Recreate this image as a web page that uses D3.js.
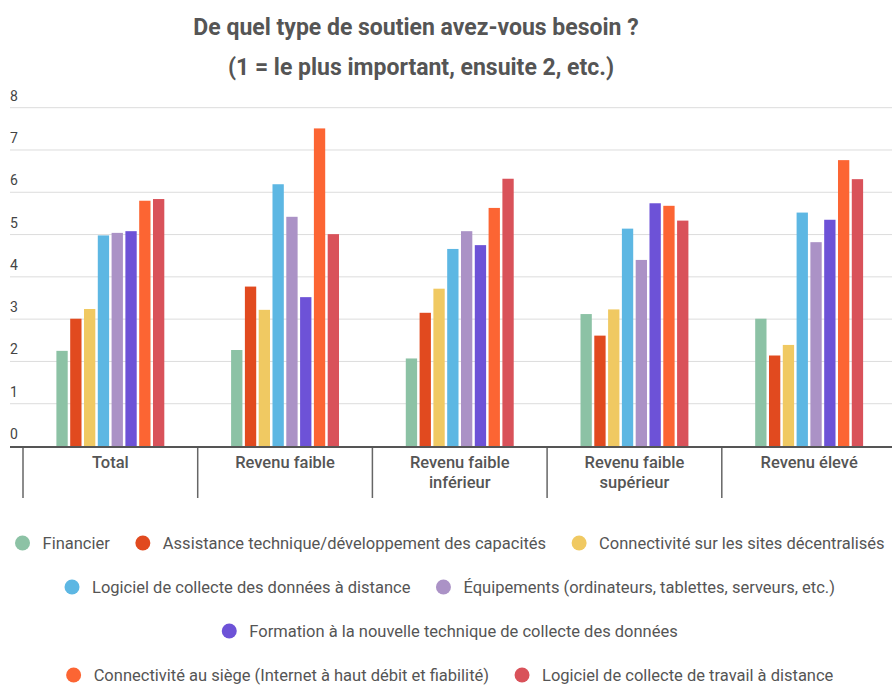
<!DOCTYPE html>
<html>
<head>
<meta charset="utf-8">
<script src="https://cdn.jsdelivr.net/npm/d3@7"></script>
<style>
  body { margin: 0; background: #fff; }
  text { font-family: Roboto, "Noto Sans", sans-serif; }
</style>
</head>
<body>
<div id="graph"></div>
<script>
// HTML element dimensions
var width = 892;
var height = 685;

// Chart data
var categories = [
  ["Total"],
  ["Revenu faible"],
  ["Revenu faible", "inférieur"],
  ["Revenu faible", "supérieur"],
  ["Revenu élevé"]
];
var seriesNames = [
  "Financier",
  "Assistance technique/développement des capacités",
  "Connectivité sur les sites décentralisés",
  "Logiciel de collecte des données à distance",
  "Équipements (ordinateurs, tablettes, serveurs, etc.)",
  "Formation à la nouvelle technique de collecte des données",
  "Connectivité au siège (Internet à haut débit et fiabilité)",
  "Logiciel de collecte de travail à distance"
];
var colors = ["#8cc2a5", "#e14a1f", "#f0c962", "#5db7e3", "#ab92c6", "#6d52d7", "#fc6533", "#d9525a"];
// one array per series, values in category order
var financier    = [2.25, 2.27, 2.07, 3.12, 3.01];
var assistance   = [3.01, 3.77, 3.15, 2.61, 2.14];
var connSites    = [3.24, 3.22, 3.72, 3.23, 2.39];
var logicielDon  = [4.98, 6.19, 4.66, 5.14, 5.52];
var equipements  = [5.04, 5.42, 5.08, 4.40, 4.82];
var formation    = [5.08, 3.52, 4.75, 5.74, 5.35];
var connSiege    = [5.80, 7.51, 5.63, 5.68, 6.76];
var logicielTrav = [5.84, 5.01, 6.32, 5.33, 6.31];
var seriesValues = [financier, assistance, connSites, logicielDon, equipements, formation, connSiege, logicielTrav];
var yTicks = [0, 1, 2, 3, 4, 5, 6, 7, 8];
// legend rows (indices into seriesNames)
var legendRows = [[0, 1, 2], [3, 4], [5], [6, 7]];

var svg = d3.select("#graph")
  .append("svg")
  .attr("width", width)
  .attr("height", height);

// Title
var title = svg.append("text")
  .attr("text-anchor", "middle")
  .attr("font-weight", "bold")
  .attr("font-size", 23)
  .attr("fill", "#555");
title.append("tspan").attr("x", 416).attr("y", 35).text("De quel type de soutien avez-vous besoin ?");
title.append("tspan").attr("x", 421).attr("y", 75).text("(1 = le plus important, ensuite 2, etc.)");

// Scales
var keys = categories.map(function(c) { return c.join(" "); });
var x0 = d3.scaleBand()
  .domain(keys)
  .range([23, 23 + 5 * 174.7]);

var x1 = d3.scaleBand()
  .domain(d3.range(seriesNames.length))
  .range([0, x0.bandwidth()])
  .paddingInner(0.18)
  .paddingOuter(2.42);

var y = d3.scaleLinear()
  .domain([0, 8])
  .range([446, 107.7]);

// Gridlines
svg.append("g")
  .selectAll("line")
  .data(yTicks.slice(1))
  .enter().append("line")
  .attr("x1", 10)
  .attr("x2", width)
  .attr("y1", function(d) { return y(d); })
  .attr("y2", function(d) { return y(d); })
  .attr("stroke", "#dcdcdc")
  .attr("stroke-width", 1);

// Y tick labels (above the gridlines)
svg.append("g")
  .selectAll("text")
  .data(yTicks)
  .enter().append("text")
  .attr("x", 10)
  .attr("y", function(d) { return y(d) - 7; })
  .attr("font-size", 14)
  .attr("fill", "#444")
  .text(function(d) { return d; });

// Bars
var groups = svg.append("g")
  .selectAll("g")
  .data(keys)
  .enter().append("g")
  .attr("transform", function(d) { return "translate(" + x0(d) + ",0)"; });

groups.selectAll("rect")
  .data(function(d, ci) {
    return seriesValues.map(function(s, si) { return { s: si, v: s[ci] }; });
  })
  .enter().append("rect")
  .attr("x", function(d) { return x1(d.s); })
  .attr("width", x1.bandwidth())
  .attr("y", function(d) { return y(d.v); })
  .attr("height", function(d) { return y(0) - y(d.v); })
  .attr("fill", function(d) { return colors[d.s]; });

// Baseline
svg.append("line")
  .attr("x1", 10)
  .attr("x2", width)
  .attr("y1", y(0) + 1)
  .attr("y2", y(0) + 1)
  .attr("stroke", "#555")
  .attr("stroke-width", 2);

// Category separators and labels
var xAxis = svg.append("g");
xAxis.selectAll("line")
  .data(keys)
  .enter().append("line")
  .attr("x1", function(d) { return x0(d); })
  .attr("x2", function(d) { return x0(d); })
  .attr("y1", y(0) + 2)
  .attr("y2", 498)
  .attr("stroke", "#666")
  .attr("stroke-width", 1.5);

xAxis.selectAll("text")
  .data(categories)
  .enter().append("text")
  .attr("text-anchor", "middle")
  .attr("font-size", 16.5)
  .attr("font-weight", 500)
  .attr("fill", "#555")
  .each(function(d, i) {
    var t = d3.select(this);
    var cx = x0(keys[i]) + x0.bandwidth() / 2;
    d.forEach(function(line, j) {
      t.append("tspan").attr("x", cx).attr("y", 468 + j * 20).text(line);
    });
  });

// Legend
var legend = svg.append("g");
var rowY = [543, 587, 631, 675];
legendRows.forEach(function(row, r) {
  var g = legend.append("g");
  var xPos = 0;
  row.forEach(function(si) {
    var item = g.append("g").attr("transform", "translate(" + xPos + ",0)");
    item.append("circle")
      .attr("cx", 7)
      .attr("cy", 0)
      .attr("r", 7.5)
      .attr("fill", colors[si]);
    var t = item.append("text")
      .attr("x", 27)
      .attr("y", 6)
      .attr("font-size", 16.5)
      .attr("fill", "#555")
      .text(seriesNames[si]);
    xPos += 27 + t.node().getComputedTextLength() + 26;
  });
  var total = xPos - 26;
  g.attr("transform", "translate(" + (450 - total / 2) + "," + rowY[r] + ")");
});
</script>
</body>
</html>
